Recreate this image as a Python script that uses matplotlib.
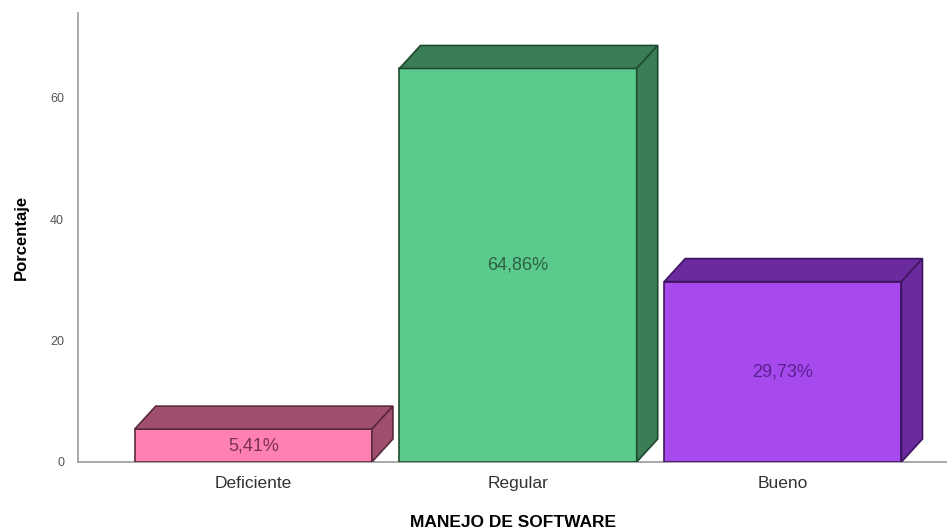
import matplotlib
matplotlib.use("Agg")
import matplotlib.pyplot as plt
from matplotlib.patches import Polygon

plt.rcParams['font.family'] = ['Liberation Sans', 'DejaVu Sans']

categories = ["Deficiente", "Regular", "Bueno"]
values = [5.41, 64.86, 29.73]
labels = ["5,41%", "64,86%", "29,73%"]
front_colors = ["#FF80B2", "#5ACB8C", "#A64AEE"]
dark_colors = ["#A0506E", "#3B7D55", "#6B2A9E"]
edge_colors = ["#5A2A3C", "#1E4A30", "#3E1660"]
text_colors = ["#7A3050", "#2E6045", "#5A2090"]

fig = plt.figure(figsize=(9.47, 5.31), dpi=100)
ax = fig.add_axes([0.0824, 0.130, 0.9176, 0.8455])

width = 0.896
dx = 0.0794
dy = 3.79

ax.set_xlim(-0.662, 2.62)
ax.set_ylim(0, 74)

for i, (v, fc, dc, ec) in enumerate(zip(values, front_colors, dark_colors, edge_colors)):
    x0 = i - width / 2
    x1 = i + width / 2
    ax.add_patch(Polygon([(x0, 0), (x1, 0), (x1, v), (x0, v)], closed=True,
                         facecolor=fc, edgecolor=ec, linewidth=1.2, zorder=3))
    ax.add_patch(Polygon([(x0, v), (x1, v), (x1 + dx, v + dy), (x0 + dx, v + dy)], closed=True,
                         facecolor=dc, edgecolor=ec, linewidth=1.2, zorder=3))
    ax.add_patch(Polygon([(x1, 0), (x1 + dx, dy), (x1 + dx, v + dy), (x1, v)], closed=True,
                         facecolor=dc, edgecolor=ec, linewidth=1.2, zorder=3))
    ax.text(i, v / 2, labels[i], ha='center', va='center', fontsize=13,
            color=text_colors[i], zorder=4)

ax.set_xticks(range(len(categories)))
ax.set_xticklabels(categories, fontsize=12.5, color='#333333')
ax.set_yticks([0, 20, 40, 60])
ax.set_yticklabels(['0', '20', '40', '60'], fontsize=9, color='#555555')
ax.tick_params(axis='both', length=0)
ax.tick_params(axis='x', pad=10)
ax.tick_params(axis='y', pad=10)

for s in ['top', 'right']:
    ax.spines[s].set_visible(False)
for s in ['left', 'bottom']:
    ax.spines[s].set_color('#9a9a9a')
    ax.spines[s].set_linewidth(1.2)

ax.set_ylabel('Porcentaje', fontsize=12, fontweight='bold')
ax.yaxis.set_label_coords(-0.056, 0.5)
ax.set_xlabel('MANEJO DE SOFTWARE', fontsize=12.5, fontweight='bold')
ax.xaxis.set_label_coords(0.5, -0.118)

fig.savefig('out.png', dpi=100)
